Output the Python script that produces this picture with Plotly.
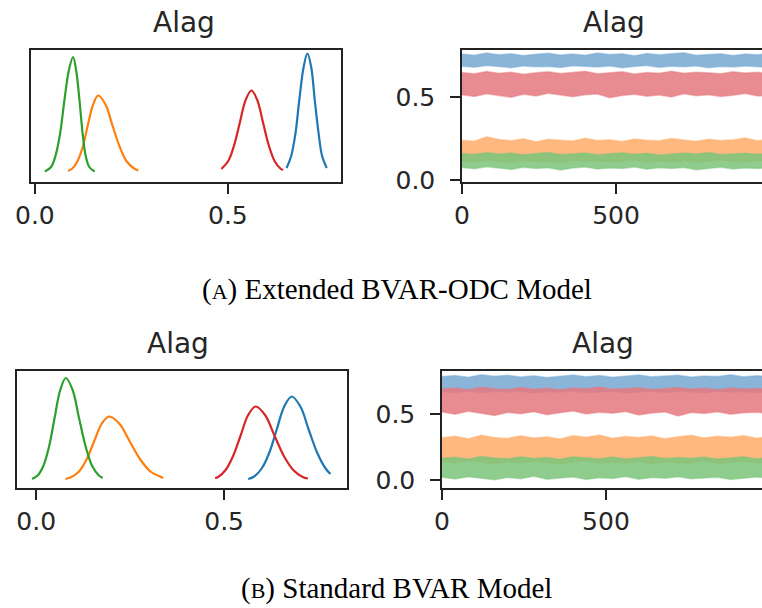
import plotly.graph_objects as go

# ---------------- data ----------------
# KDE curves, panel A (Extended BVAR-ODC)
kde_blue_x_A = [0.652,0.664,0.675,0.685,0.696,0.706,0.716,0.725,0.735,0.744,0.756]
kde_blue_y_A = [0.8,3.2,7.7,14.4,20.9,23.7,20.9,14.4,7.7,3.2,0.8]
kde_orange_x_A = [0.086,0.097,0.110,0.124,0.137,0.151,0.164,0.183,0.201,0.220,0.238,0.257,0.268]
kde_orange_y_A = [0.2,0.7,2.1,5.0,9.3,13.5,15.3,13.5,9.3,5.0,2.1,0.7,0.3]
kde_green_x_A = [0.026,0.042,0.053,0.065,0.076,0.088,0.099,0.107,0.116,0.124,0.132,0.141,0.155]
kde_green_y_A = [0.1,1.0,3.1,7.5,14.0,20.3,23.0,20.3,14.0,7.5,3.1,1.0,0.1]
kde_red_x_A = [0.483,0.501,0.516,0.531,0.546,0.561,0.576,0.591,0.606,0.621,0.636,0.643]
kde_red_y_A = [0.6,2.2,5.3,9.9,14.4,16.3,14.4,9.9,5.3,2.2,0.7,0.4]

# KDE curves, panel B (Standard BVAR)
kde_blue_x_B = [0.564,0.580,0.600,0.620,0.640,0.660,0.680,0.703,0.725,0.748,0.770,0.783]
kde_blue_y_B = [0.2,0.7,2.3,5.4,10.1,14.7,16.7,14.7,10.1,5.4,2.3,1.2]
kde_orange_x_B = [0.078,0.094,0.114,0.134,0.154,0.174,0.194,0.222,0.249,0.277,0.304,0.332,0.338]
kde_orange_y_B = [0.2,0.6,1.7,4.1,7.7,11.2,12.7,11.2,7.7,4.1,1.7,0.6,0.4]
kde_green_x_B = [-0.011,0.004,0.019,0.034,0.049,0.064,0.079,0.097,0.114,0.132,0.149,0.167,0.177]
kde_green_y_B = [0.2,0.9,2.8,6.6,12.4,18.0,20.4,18.0,12.4,6.6,2.8,0.9,0.4]
kde_red_x_B = [0.476,0.484,0.504,0.524,0.544,0.564,0.584,0.609,0.634,0.659,0.684,0.709,0.723]
kde_red_y_B = [0.4,0.6,2.0,4.8,8.9,13.0,14.7,13.0,8.9,4.8,2.0,0.6,0.3]

# Trace envelopes (draw index 0..1000)
draw = [0,40,80,120,160,200,240,280,320,360,400,440,480,520,560,600,640,680,720,760,800,840,880,920,960,1000]

blue_hi_A = [0.762,0.755,0.768,0.758,0.764,0.752,0.760,0.766,0.756,0.762,0.754,0.768,0.759,0.763,0.751,0.765,0.757,0.761,0.769,0.755,0.760,0.764,0.753,0.762,0.758,0.765]
blue_lo_A = [0.688,0.682,0.692,0.685,0.679,0.690,0.684,0.687,0.680,0.691,0.686,0.683,0.689,0.678,0.686,0.692,0.681,0.688,0.684,0.690,0.679,0.687,0.683,0.689,0.685,0.681]
orange_hi_A = [0.240,0.235,0.262,0.245,0.238,0.250,0.232,0.246,0.241,0.236,0.252,0.239,0.244,0.233,0.248,0.240,0.237,0.251,0.242,0.235,0.247,0.239,0.244,0.254,0.238,0.243]
orange_lo_A = [0.115,0.108,0.120,0.112,0.105,0.118,0.110,0.114,0.107,0.119,0.111,0.116,0.109,0.113,0.121,0.106,0.115,0.110,0.117,0.108,0.114,0.119,0.111,0.107,0.116,0.112]
green_hi_A = [0.160,0.154,0.166,0.158,0.163,0.152,0.161,0.167,0.155,0.160,0.164,0.153,0.159,0.165,0.156,0.162,0.151,0.158,0.163,0.157,0.166,0.154,0.160,0.162,0.156,0.161]
green_lo_A = [0.075,0.068,0.080,0.071,0.064,0.077,0.069,0.074,0.060,0.072,0.078,0.066,0.073,0.070,0.079,0.065,0.074,0.069,0.076,0.062,0.071,0.077,0.067,0.073,0.070,0.075]
red_hi_A = [0.650,0.642,0.656,0.645,0.652,0.640,0.648,0.655,0.644,0.651,0.658,0.643,0.649,0.654,0.641,0.650,0.646,0.657,0.645,0.652,0.648,0.642,0.655,0.647,0.651,0.644]
red_lo_A = [0.515,0.505,0.522,0.510,0.500,0.518,0.508,0.525,0.512,0.503,0.516,0.520,0.498,0.511,0.519,0.507,0.514,0.502,0.521,0.509,0.516,0.505,0.512,0.523,0.508,0.514]

blue_hi_B = [0.785,0.792,0.778,0.798,0.786,0.794,0.781,0.790,0.776,0.788,0.795,0.783,0.791,0.779,0.787,0.796,0.782,0.789,0.793,0.780,0.788,0.785,0.797,0.782,0.790,0.786]
blue_lo_B = [0.668,0.662,0.674,0.660,0.670,0.665,0.672,0.658,0.669,0.664,0.675,0.661,0.667,0.671,0.659,0.668,0.673,0.663,0.670,0.666,0.660,0.672,0.665,0.669,0.662,0.671]
orange_hi_B = [0.320,0.332,0.312,0.338,0.322,0.315,0.335,0.318,0.328,0.310,0.336,0.324,0.340,0.316,0.330,0.321,0.334,0.313,0.327,0.339,0.318,0.331,0.323,0.336,0.317,0.329]
orange_lo_B = [0.140,0.128,0.145,0.132,0.122,0.138,0.126,0.142,0.130,0.120,0.136,0.144,0.125,0.134,0.128,0.141,0.123,0.137,0.131,0.127,0.143,0.124,0.135,0.139,0.129,0.133]
green_hi_B = [0.165,0.172,0.158,0.178,0.166,0.160,0.175,0.163,0.170,0.157,0.176,0.168,0.161,0.174,0.159,0.169,0.177,0.162,0.171,0.164,0.173,0.158,0.167,0.175,0.160,0.170]
green_lo_B = [0.020,0.008,0.025,0.012,0.002,0.018,0.010,0.028,0.005,0.015,0.022,0.003,0.017,0.011,0.026,0.006,0.019,0.013,0.024,0.009,0.016,0.021,0.004,0.014,0.023,0.012]
red_hi_B = [0.690,0.698,0.684,0.702,0.692,0.686,0.700,0.688,0.695,0.683,0.697,0.691,0.705,0.687,0.694,0.699,0.685,0.693,0.701,0.689,0.696,0.684,0.698,0.690,0.694,0.688]
red_lo_B = [0.515,0.498,0.520,0.505,0.488,0.512,0.502,0.518,0.495,0.510,0.522,0.500,0.513,0.506,0.519,0.492,0.508,0.516,0.485,0.511,0.503,0.517,0.498,0.509,0.514,0.501]

panel_title = "Alag"
caption_A = "(<span style='font-size:22px'>A</span>) Extended BVAR-ODC Model"
caption_B = "(<span style='font-size:22px'>B</span>) Standard BVAR Model"
kde_ticks = [0.0, 0.5]
kde_ticktext = ["0.0", "0.5"]
trace_xticks = [0, 500]
trace_yticks = [0.0, 0.5]
trace_yticktext = ["0.0", "0.5"]

# ---------------- styling ----------------
C = {"blue": "#1f77b4", "orange": "#ff7f0e", "green": "#2ca02c", "red": "#d62728"}
CF = {"blue": "rgba(118,168,210,0.85)", "orange": "rgba(255,172,105,0.85)",
      "green": "rgba(122,196,122,0.85)", "red": "rgba(229,120,126,0.85)"}
CE = {"blue": "rgba(118,168,210,0.45)", "orange": "rgba(255,172,105,0.45)",
      "green": "rgba(122,196,122,0.45)", "red": "rgba(229,120,126,0.45)"}
W, H = 762, 608

def py(p):
    return 1 - p / H

fig = go.Figure()

kde_A = [("blue", kde_blue_x_A, kde_blue_y_A), ("orange", kde_orange_x_A, kde_orange_y_A),
         ("green", kde_green_x_A, kde_green_y_A), ("red", kde_red_x_A, kde_red_y_A)]
kde_B = [("blue", kde_blue_x_B, kde_blue_y_B), ("orange", kde_orange_x_B, kde_orange_y_B),
         ("green", kde_green_x_B, kde_green_y_B), ("red", kde_red_x_B, kde_red_y_B)]
tr_A = [("blue", blue_lo_A, blue_hi_A), ("orange", orange_lo_A, orange_hi_A),
        ("green", green_lo_A, green_hi_A), ("red", red_lo_A, red_hi_A)]
tr_B = [("blue", blue_lo_B, blue_hi_B), ("orange", orange_lo_B, orange_hi_B),
        ("green", green_lo_B, green_hi_B), ("red", red_lo_B, red_hi_B)]

def add_kde(series, xa, ya):
    for name, xs, ys in series:
        fig.add_trace(go.Scatter(x=xs, y=ys, mode="lines",
                                 line=dict(color=C[name], width=2.2, shape="spline"),
                                 xaxis=xa, yaxis=ya, showlegend=False, hoverinfo="skip"))

def add_trace_bands(series, xa, ya):
    for name, lo, hi in series:
        fig.add_trace(go.Scatter(x=draw, y=lo, mode="lines", line=dict(color=CE[name], width=1.5),
                                 xaxis=xa, yaxis=ya, showlegend=False, hoverinfo="skip"))
        fig.add_trace(go.Scatter(x=draw, y=hi, mode="lines", line=dict(color=CE[name], width=1.5),
                                 fill="tonexty", fillcolor=CF[name], xaxis=xa, yaxis=ya,
                                 showlegend=False, hoverinfo="skip"))

add_kde(kde_A, "x", "y")
add_trace_bands(tr_A, "x2", "y2")
add_kde(kde_B, "x3", "y3")
add_trace_bands(tr_B, "x4", "y4")

tickfont = dict(family="DejaVu Sans", size=25, color="#262626")
axcommon = dict(showgrid=False, zeroline=False, showline=True, linecolor="#222", linewidth=1.5,
                ticks="outside", ticklen=10, tickwidth=1.5, tickcolor="#222", tickfont=tickfont)
kde_y = dict(showgrid=False, zeroline=False, showline=True, mirror=True, linecolor="#222",
             linewidth=1.5, showticklabels=False, ticks="")

fig.update_layout(
    width=W, height=H, margin=dict(l=0, r=0, t=0, b=0, autoexpand=False),
    paper_bgcolor="white", plot_bgcolor="white", showlegend=False,
    xaxis=dict(domain=[31/W, 341/W], range=[-0.010, 0.793], tickvals=kde_ticks, ticktext=kde_ticktext,
               mirror=True, anchor="y", **axcommon),
    yaxis=dict(domain=[py(182), py(50)], range=[-2.0, 24.4], anchor="x", **kde_y),
    xaxis2=dict(domain=[462/W, 1.0], range=[0, 974], tickvals=trace_xticks, mirror=True, anchor="y2", **axcommon),
    yaxis2=dict(domain=[py(182), py(50)], range=[-0.012, 0.786], tickvals=trace_yticks,
                ticktext=trace_yticktext, anchor="x2", ticklabelstandoff=10, **axcommon),
    xaxis3=dict(domain=[17/W, 347/W], range=[-0.051, 0.827], tickvals=kde_ticks, ticktext=kde_ticktext,
                mirror=True, anchor="y3", **axcommon),
    yaxis3=dict(domain=[py(488), py(371)], range=[-1.6, 21.8], anchor="x3", **kde_y),
    xaxis4=dict(domain=[442/W, 1.0], range=[0, 976], tickvals=trace_xticks, mirror=True, anchor="y4", **axcommon),
    yaxis4=dict(domain=[py(488), py(371)], range=[-0.061, 0.826], tickvals=trace_yticks,
                ticktext=trace_yticktext, anchor="x4", ticklabelstandoff=10, **axcommon),
)

title_font = dict(family="DejaVu Sans", size=28, color="#262626")
for cx, cy in [(184, 22), (614, 22), (178, 343), (603, 343)]:
    fig.add_annotation(text=panel_title, x=cx / W, y=py(cy), xref="paper", yref="paper",
                       showarrow=False, xanchor="center", yanchor="middle", font=title_font)

cap_font = dict(family="Liberation Serif, Times New Roman, serif", size=29, color="black")
fig.add_annotation(text=caption_A, x=397 / W, y=py(289), xref="paper", yref="paper",
                   showarrow=False, xanchor="center", yanchor="middle", font=cap_font)
fig.add_annotation(text=caption_B, x=396 / W, y=py(588), xref="paper", yref="paper",
                   showarrow=False, xanchor="center", yanchor="middle", font=cap_font)

fig.write_html("out.html", config={"displayModeBar": False},
               post_script="document.body.style.margin='0';")
